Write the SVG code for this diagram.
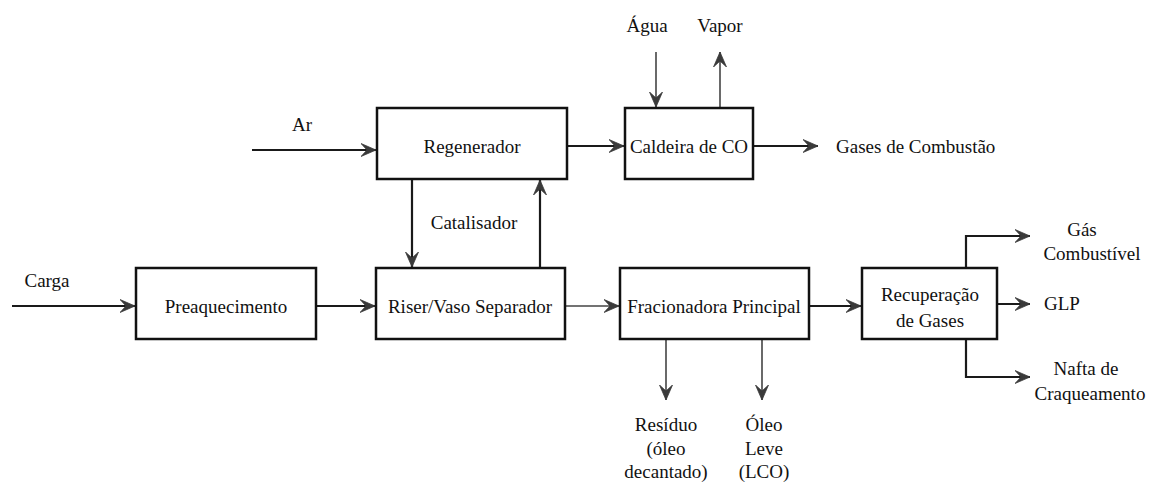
<svg xmlns="http://www.w3.org/2000/svg" width="1149" height="484" viewBox="0 0 1149 484">
<style>
.box{fill:#fff;stroke:#111;stroke-width:2.5}
.t{font-family:"Liberation Serif","DejaVu Serif","Times New Roman",serif;font-size:19px;fill:#111;text-anchor:middle;dominant-baseline:central}
.s{text-anchor:start}
.c{fill:none;stroke:#1a1a1a;stroke-width:2.2}
.c2{fill:none;stroke:#444;stroke-width:1.6}
</style>
<defs>
<marker id="ah" markerWidth="18" markerHeight="16" refX="15" refY="7" orient="auto" markerUnits="userSpaceOnUse">
<path d="M0,0.5 L15,7 L0,13.5 L6,7 Z" fill="#3a3a3a" stroke="#3a3a3a" stroke-width="0.8" stroke-linejoin="miter"/>
</marker>
</defs>
<rect width="1149" height="484" fill="#fff"/>
<g id="connectors">
<line class="c" x1="252" y1="150" x2="376" y2="150" marker-end="url(#ah)"/>
<line class="c" x1="567" y1="146" x2="624" y2="146" marker-end="url(#ah)"/>
<line class="c2" x1="656" y1="52" x2="656" y2="107" marker-end="url(#ah)"/>
<line class="c2" x1="720" y1="107" x2="720" y2="52" marker-end="url(#ah)"/>
<line class="c" x1="753" y1="146" x2="818" y2="146" marker-end="url(#ah)"/>
<line class="c" x1="412" y1="179" x2="412" y2="267" marker-end="url(#ah)"/>
<line class="c" x1="540" y1="268" x2="540" y2="180" marker-end="url(#ah)"/>
<line class="c" x1="12" y1="306" x2="135" y2="306" marker-end="url(#ah)"/>
<line class="c" x1="316" y1="306" x2="375" y2="306" marker-end="url(#ah)"/>
<line class="c2" x1="565" y1="306" x2="619" y2="306" marker-end="url(#ah)"/>
<line class="c" x1="809" y1="306" x2="861" y2="306" marker-end="url(#ah)"/>
<polyline class="c" points="966,268 966,236 1030,236" marker-end="url(#ah)"/>
<line class="c" x1="997" y1="304" x2="1030" y2="304" marker-end="url(#ah)"/>
<polyline class="c" points="966,339 966,377 1030,377" marker-end="url(#ah)"/>
<line class="c2" x1="666" y1="339" x2="666" y2="400" marker-end="url(#ah)"/>
<line class="c2" x1="762" y1="339" x2="762" y2="400" marker-end="url(#ah)"/>
</g>
<g id="regenerador"><rect class="box" x="377" y="108" width="190" height="71"/><text class="t" x="472" y="146">Regenerador</text></g>
<g id="caldeira"><rect class="box" x="625" y="108" width="128" height="71"/><text class="t" x="689" y="146">Caldeira de CO</text></g>
<g id="preaquecimento"><rect class="box" x="136" y="268" width="180" height="71"/><text class="t" x="226" y="306">Preaquecimento</text></g>
<g id="riser"><rect class="box" x="376" y="268" width="189" height="71"/><text class="t" x="470" y="306">Riser/Vaso Separador</text></g>
<g id="fracionadora"><rect class="box" x="620" y="268" width="189" height="71"/><text class="t" x="714" y="306">Fracionadora Principal</text></g>
<g id="recuperacao"><rect class="box" x="862" y="268" width="135" height="71"/><text class="t" x="930" y="294">Recuperação</text><text class="t" x="930" y="320">de Gases</text></g>
<g id="labels">
<text class="t" x="302" y="124">Ar</text>
<text class="t" x="647" y="25">Água</text>
<text class="t" x="720" y="25">Vapor</text>
<text class="t s" x="836" y="146">Gases de Combustão</text>
<text class="t" x="474" y="222">Catalisador</text>
<text class="t" x="47" y="280">Carga</text>
<text class="t" x="1082" y="229">Gás</text>
<text class="t" x="1092" y="253">Combustível</text>
<text class="t" x="1062" y="303">GLP</text>
<text class="t" x="1086" y="368">Nafta de</text>
<text class="t" x="1090" y="393">Craqueamento</text>
<text class="t" x="666" y="424">Resíduo</text>
<text class="t" x="666" y="448">(óleo</text>
<text class="t" x="666" y="471">decantado)</text>
<text class="t" x="764" y="424">Óleo</text>
<text class="t" x="764" y="448">Leve</text>
<text class="t" x="764" y="471">(LCO)</text>
</g>
</svg>
